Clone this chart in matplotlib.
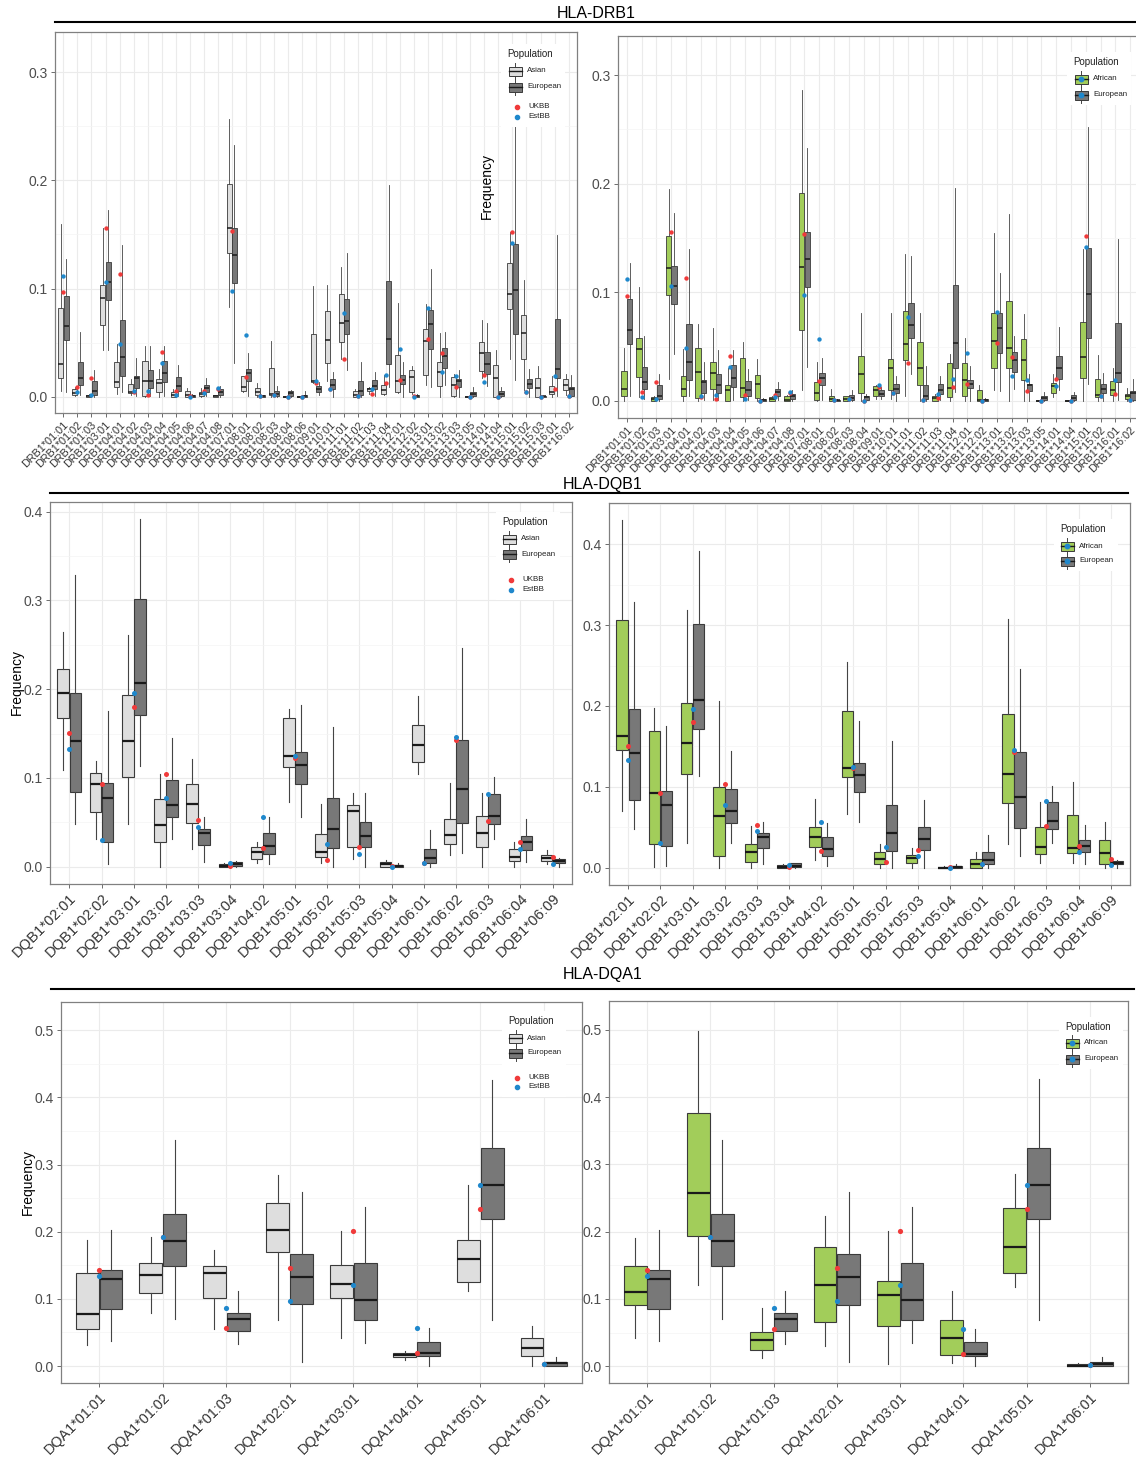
import numpy as np
import matplotlib
matplotlib.use("Agg")
import matplotlib.pyplot as plt
from matplotlib.patches import Rectangle
from matplotlib.lines import Line2D
from matplotlib.transforms import Affine2D
from matplotlib.ticker import MultipleLocator

plt.rcParams['font.family'] = ['Liberation Sans', 'DejaVu Sans']

# ---------------------------------------------------------------- data
# each box: (whisker_low, q1, median, q3, whisker_high)

drb1_alleles = ["01:01", "01:02", "01:03", "03:01", "04:01", "04:02", "04:03", "04:04",
                "04:05", "04:06", "04:07", "04:08", "07:01", "08:01", "08:02", "08:03",
                "08:04", "08:06", "09:01", "10:01", "11:01", "11:02", "11:03", "11:04",
                "12:01", "12:02", "13:01", "13:02", "13:03", "13:05", "14:01", "14:04",
                "15:01", "15:02", "15:03", "16:01", "16:02"]
drb1_alleles_afr = [a for a in drb1_alleles if a not in ("08:06", "15:03")]

drb1_asian = [
    (0.0055, 0.017, 0.030, 0.082, 0.160), (0.0006, 0.002, 0.0037, 0.0068, 0.0086),
    (0.0, 0.0, 0.0005, 0.0015, 0.0025), (0.043, 0.066, 0.0914, 0.1037, 0.156),
    (0.003, 0.0092, 0.0132, 0.0317, 0.049), (0.0015, 0.0037, 0.0046, 0.0114, 0.016),
    (0.0, 0.0006, 0.0148, 0.033, 0.047), (0.0, 0.0046, 0.0123, 0.0166, 0.026),
    (0.0, 0.0, 0.002, 0.0046, 0.0068), (0.0, 0.0, 0.002, 0.005, 0.0077),
    (0.0, 0.0006, 0.0025, 0.0046, 0.008), (0.0, 0.0, 0.0003, 0.0012, 0.0015),
    (0.0825, 0.133, 0.156, 0.197, 0.257), (0.004, 0.005, 0.009, 0.019, 0.0195),
    (0.0, 0.002, 0.004, 0.0083, 0.0123), (0.0, 0.002, 0.0028, 0.027, 0.0517),
    (0.0, 0.0, 0.0, 0.0003, 0.0006), (0.0, 0.0, 0.0, 0.0003, 0.0006),
    (0.013, 0.014, 0.0148, 0.058, 0.102), (0.015, 0.031, 0.052, 0.079, 0.103),
    (0.0345, 0.051, 0.068, 0.095, 0.120), (0.0, 0.0, 0.002, 0.005, 0.0068),
    (0.003, 0.0055, 0.007, 0.0083, 0.0092), (0.0015, 0.003, 0.006, 0.0105, 0.020),
    (0.0035, 0.0046, 0.0145, 0.039, 0.087), (0.003, 0.0046, 0.018, 0.0246, 0.028),
    (0.011, 0.0197, 0.0514, 0.063, 0.0855), (0.0, 0.0102, 0.023, 0.0323, 0.059),
    (0.0, 0.0006, 0.0108, 0.018, 0.0206), (0.0, 0.0, 0.0, 0.0003, 0.0006),
    (0.017, 0.024, 0.0406, 0.051, 0.0708), (0.0, 0.0, 0.017, 0.029, 0.043),
    (0.0345, 0.0815, 0.0954, 0.1237, 0.152), (0.006, 0.035, 0.059, 0.0757, 0.108),
    (0.0, 0.0, 0.0077, 0.0175, 0.028), (0.0, 0.003, 0.0046, 0.0098, 0.019),
    (0.0015, 0.006, 0.0108, 0.016, 0.021)]

drb1_european = [
    (0.0046, 0.052, 0.0655, 0.0935, 0.127), (0.0015, 0.011, 0.0175, 0.0317, 0.060),
    (0.0, 0.0015, 0.0050, 0.0150, 0.025), (0.043, 0.089, 0.106, 0.1246, 0.173),
    (0.0046, 0.0194, 0.0363, 0.0708, 0.140), (0.0006, 0.0077, 0.017, 0.0194, 0.036),
    (0.0006, 0.0077, 0.0145, 0.025, 0.047), (0.0006, 0.0132, 0.0215, 0.033, 0.047),
    (0.0006, 0.005, 0.0098, 0.0185, 0.029), (0.0, 0.0, 0.0006, 0.0015, 0.0025),
    (0.0006, 0.0043, 0.0083, 0.011, 0.0175), (0.0, 0.002, 0.0043, 0.0068, 0.0098),
    (0.031, 0.105, 0.131, 0.156, 0.233), (0.0006, 0.0145, 0.0215, 0.026, 0.040),
    (0.0, 0.0, 0.0006, 0.0012, 0.002), (0.0, 0.0006, 0.003, 0.0055, 0.0098),
    (0.0, 0.001, 0.0034, 0.005, 0.006), (0.0, 0.0, 0.001, 0.002, 0.0055),
    (0.0015, 0.0043, 0.0068, 0.0098, 0.0132), (0.0, 0.0074, 0.011, 0.016, 0.023),
    (0.0246, 0.058, 0.070, 0.090, 0.133), (0.0, 0.002, 0.005, 0.0145, 0.032),
    (0.0006, 0.0068, 0.0098, 0.0154, 0.0228), (0.0086, 0.030, 0.053, 0.107, 0.196),
    (0.0, 0.0117, 0.0154, 0.0197, 0.032), (0.0, 0.0, 0.001, 0.002, 0.003),
    (0.009, 0.044, 0.0668, 0.0806, 0.118), (0.011, 0.0268, 0.0378, 0.0455, 0.060),
    (0.0, 0.0092, 0.0145, 0.016, 0.0246), (0.0, 0.001, 0.003, 0.0046, 0.0086),
    (0.0098, 0.0206, 0.030, 0.041, 0.0677), (0.0, 0.0006, 0.003, 0.0052, 0.0086),
    (0.0154, 0.0578, 0.0989, 0.141, 0.252), (0.0, 0.0077, 0.0114, 0.016, 0.0255),
    (0.0, 0.0, 0.0003, 0.0006, 0.001), (0.0006, 0.017, 0.026, 0.0714, 0.149),
    (0.0, 0.0006, 0.007, 0.0092, 0.020)]

drb1_african = [
    (0.0, 0.0046, 0.0114, 0.0277, 0.049), (0.0037, 0.022, 0.0475, 0.0576, 0.105),
    (0.0, 0.0, 0.002, 0.0037, 0.0046), (0.0206, 0.0977, 0.122, 0.152, 0.195),
    (0.0, 0.0043, 0.0108, 0.0234, 0.0478), (0.0, 0.003, 0.0268, 0.0484, 0.0706),
    (0.0012, 0.0114, 0.0259, 0.036, 0.0669), (0.0, 0.0, 0.0099, 0.0145, 0.030),
    (0.0, 0.0037, 0.0123, 0.040, 0.0545), (0.0, 0.003, 0.016, 0.0237, 0.039),
    (0.0, 0.0, 0.002, 0.0037, 0.0046), (0.0, 0.0, 0.0006, 0.0043, 0.0055),
    (0.0105, 0.0653, 0.123, 0.191, 0.286), (0.0, 0.0006, 0.0074, 0.017, 0.0354),
    (0.0, 0.0, 0.002, 0.0043, 0.011), (0.0, 0.0, 0.002, 0.0043, 0.0046),
    (0.0, 0.0074, 0.0247, 0.041, 0.081), (0.0022, 0.0046, 0.0099, 0.014, 0.015),
    (0.0022, 0.0105, 0.0305, 0.039, 0.0807), (0.005, 0.038, 0.0524, 0.0826, 0.135),
    (0.0, 0.0145, 0.030, 0.054, 0.081), (0.0, 0.0, 0.003, 0.0046, 0.0068),
    (0.0, 0.0037, 0.0123, 0.0345, 0.043), (0.0, 0.0043, 0.019, 0.0345, 0.058),
    (0.0, 0.0, 0.0006, 0.0099, 0.015), (0.0099, 0.030, 0.0555, 0.081, 0.155),
    (0.0, 0.030, 0.0484, 0.092, 0.172), (0.0, 0.019, 0.0376, 0.0567, 0.080),
    (0.0, 0.0, 0.0, 0.0006, 0.001), (0.004, 0.0074, 0.0139, 0.0166, 0.0247),
    (0.0, 0.0, 0.0, 0.0006, 0.001), (0.0, 0.0213, 0.0407, 0.073, 0.140),
    (0.0, 0.0037, 0.0052, 0.0203, 0.0422), (0.0, 0.0052, 0.0099, 0.0185, 0.030),
    (0.0, 0.002, 0.0043, 0.0068, 0.0123)]

drb1_ukbb = [0.0966, 0.0086, 0.0175, 0.156, 0.113, 0.004, 0.0015, 0.041, 0.0055, 0.0003,
             0.0055, 0.0075, 0.1535, 0.0185, 0.0005, 0.002, 0.0, 0.0, 0.013, 0.007,
             0.0345, 0.001, 0.003, 0.0129, 0.0154, 0.0003, 0.053, 0.0406, 0.009, 0.0,
             0.020, 0.0, 0.152, 0.0046, 0.0, 0.0068, 0.0006]
drb1_estbb = [0.112, 0.004, 0.0015, 0.106, 0.0486, 0.005, 0.0055, 0.031, 0.002, 0.0,
              0.0034, 0.008, 0.0975, 0.057, 0.0006, 0.002, 0.0, 0.0, 0.0148, 0.0074,
              0.077, 0.001, 0.0068, 0.020, 0.044, 0.0, 0.082, 0.023, 0.019, 0.0,
              0.0138, 0.0, 0.142, 0.0046, 0.0, 0.019, 0.0006]

dqb1_alleles = ["02:01", "02:02", "03:01", "03:02", "03:03", "03:04", "04:02", "05:01",
                "05:02", "05:03", "05:04", "06:01", "06:02", "06:03", "06:04", "06:09"]
dqb1_asian = [
    (0.109, 0.168, 0.196, 0.223, 0.264), (0.031, 0.0612, 0.0928, 0.106, 0.119),
    (0.0477, 0.101, 0.142, 0.193, 0.261), (0.0, 0.0274, 0.047, 0.0759, 0.104),
    (0.020, 0.0488, 0.0706, 0.093, 0.121), (0.0, 0.0, 0.0008, 0.0026, 0.0038),
    (0.0045, 0.0086, 0.0169, 0.0218, 0.028), (0.0732, 0.1127, 0.1247, 0.168, 0.178),
    (0.0038, 0.0113, 0.0169, 0.0364, 0.0706), (0.0083, 0.0225, 0.0627, 0.0695, 0.0826),
    (0.0, 0.0, 0.0026, 0.0056, 0.0075), (0.104, 0.118, 0.137, 0.160, 0.192),
    (0.013, 0.0255, 0.0357, 0.0537, 0.0946), (0.0, 0.0225, 0.0376, 0.0575, 0.0826),
    (0.0, 0.0068, 0.0113, 0.020, 0.028), (0.003, 0.0068, 0.0101, 0.013, 0.0188)]
dqb1_european = [
    (0.0477, 0.0837, 0.142, 0.196, 0.329), (0.0026, 0.0274, 0.077, 0.0946, 0.175),
    (0.113, 0.171, 0.207, 0.3015, 0.392), (0.031, 0.0556, 0.0695, 0.0976, 0.1446),
    (0.005, 0.0244, 0.0383, 0.0428, 0.0563), (0.0, 0.001, 0.0026, 0.0056, 0.0064),
    (0.0026, 0.0143, 0.0233, 0.0376, 0.0556), (0.0563, 0.0931, 0.1145, 0.1296, 0.182),
    (0.0, 0.0207, 0.0424, 0.077, 0.157), (0.0, 0.0225, 0.035, 0.050, 0.0834),
    (0.0, 0.0, 0.0008, 0.0019, 0.004), (0.0, 0.0045, 0.0101, 0.0195, 0.041),
    (0.015, 0.0488, 0.0871, 0.1427, 0.246), (0.031, 0.0477, 0.0575, 0.0815, 0.1006),
    (0.005, 0.0188, 0.0274, 0.0345, 0.0533), (0.0, 0.0045, 0.0064, 0.0086, 0.0101)]
dqb1_african = [
    (0.0704, 0.146, 0.163, 0.306, 0.430), (0.001, 0.0293, 0.0927, 0.169, 0.197),
    (0.030, 0.1153, 0.1537, 0.204, 0.319), (0.0, 0.0144, 0.0643, 0.0993, 0.206),
    (0.0, 0.0074, 0.019, 0.0292, 0.0519), (0.0, 0.0, 0.0012, 0.0033, 0.004),
    (0.0095, 0.025, 0.0375, 0.0507, 0.0844), (0.0663, 0.1116, 0.1228, 0.194, 0.2546),
    (0.0, 0.0045, 0.0107, 0.019, 0.0292), (0.0, 0.0054, 0.0124, 0.0157, 0.0239),
    (0.0, 0.0, 0.0, 0.0012, 0.0025), (0.0, 0.0, 0.0045, 0.0107, 0.0198),
    (0.0292, 0.0795, 0.1153, 0.190, 0.307), (0.0062, 0.0169, 0.026, 0.0498, 0.0807),
    (0.0062, 0.0177, 0.0247, 0.065, 0.1063), (0.0, 0.0041, 0.0185, 0.0342, 0.0568)]
dqb1_ukbb = [0.151, 0.0928, 0.180, 0.104, 0.0526, 0.0008, 0.0207, 0.123,
             0.0075, 0.0218, 0.001, 0.004, 0.1427, 0.0518, 0.0274, 0.0105]
dqb1_estbb = [0.133, 0.030, 0.196, 0.077, 0.045, 0.0038, 0.0563, 0.1247,
              0.0255, 0.0143, 0.0, 0.0045, 0.146, 0.0819, 0.0195, 0.003]

dqa1_alleles = ["01:01", "01:02", "01:03", "02:01", "03:01", "04:01", "05:01", "06:01"]
dqa1_asian = [
    (0.031, 0.0546, 0.0769, 0.138, 0.1875), (0.079, 0.108, 0.1354, 0.154, 0.1925),
    (0.055, 0.102, 0.138, 0.149, 0.1726), (0.0685, 0.170, 0.2024, 0.242, 0.284),
    (0.042, 0.102, 0.1215, 0.150, 0.201), (0.009, 0.0139, 0.0169, 0.0188, 0.0228),
    (0.1116, 0.1255, 0.160, 0.1875, 0.269), (0.0, 0.0149, 0.0273, 0.042, 0.0595)]
dqa1_european = [
    (0.0377, 0.0848, 0.1295, 0.143, 0.203), (0.070, 0.149, 0.1865, 0.2257, 0.336),
    (0.0327, 0.0526, 0.070, 0.079, 0.112), (0.0064, 0.0918, 0.133, 0.1667, 0.259),
    (0.035, 0.0685, 0.098, 0.154, 0.237), (0.0, 0.0154, 0.0188, 0.0362, 0.056),
    (0.0685, 0.2188, 0.269, 0.324, 0.4266), (0.0, 0.0, 0.004, 0.0064, 0.0139)]
dqa1_african = [
    (0.0427, 0.0918, 0.1106, 0.149, 0.191), (0.1215, 0.1935, 0.258, 0.376, 0.499),
    (0.0129, 0.0248, 0.0397, 0.051, 0.0868), (0.0298, 0.066, 0.1205, 0.1766, 0.223),
    (0.004, 0.0595, 0.1057, 0.1265, 0.201), (0.0055, 0.0174, 0.042, 0.0694, 0.1116),
    (0.118, 0.139, 0.1776, 0.2346, 0.2857), (0.0, 0.0, 0.001, 0.004, 0.005)]
dqa1_ukbb = [0.143, 0.192, 0.056, 0.146, 0.201, 0.0188, 0.2336, 0.0025]
dqa1_estbb = [0.134, 0.1925, 0.086, 0.097, 0.1205, 0.056, 0.269, 0.0025]

# ---------------------------------------------------------------- style
W, H = 1136, 1457
COL_ASIAN = "#DEDEDE"
COL_EUR = "#787878"
COL_AFR = "#A2CD5A"
COL_EDGE = "#3A3A3A"
COL_UKBB = "#F03A3A"
COL_ESTBB = "#1F88CC"

fig = plt.figure(figsize=(W / 100, H / 100), dpi=100)
fig.patch.set_facecolor("white")
# top-down pixel coordinates on the figure
PIX = Affine2D().scale(1 / W, -1 / H).translate(0, 1) + fig.transFigure


def make_axes(left, top, right, bottom, ylim, n, labels, xfont, ymajor):
    ax = fig.add_axes([left / W, 1 - bottom / H, (right - left) / W, (bottom - top) / H])
    ax.set_xlim(0.4, n + 0.6)
    ax.set_ylim(*ylim)
    ax.set_xticks(np.arange(1, n + 1))
    ax.set_xticklabels(labels, rotation=45, ha="right", va="top",
                       rotation_mode="anchor", fontsize=xfont, color="#333333")
    ax.yaxis.set_major_locator(MultipleLocator(ymajor))
    ax.yaxis.set_minor_locator(MultipleLocator(ymajor / 2))
    ax.yaxis.set_major_formatter(matplotlib.ticker.FormatStrFormatter("%.1f"))
    ax.tick_params(axis="y", labelsize=10, labelcolor="#4D4D4D", length=3,
                   width=0.6, color="#555555", pad=2)
    ax.tick_params(axis="x", length=3, width=0.6, color="#555555", pad=2)
    ax.tick_params(which="minor", length=0)
    ax.grid(True, which="major", color="#EBEBEB", lw=0.8)
    ax.grid(True, which="minor", axis="y", color="#F4F4F4", lw=0.5)
    ax.set_axisbelow(True)
    for s in ax.spines.values():
        s.set_color("#808080")
        s.set_linewidth(0.9)
    return ax


def draw_boxes(ax, series, positions, color, width, lw, mlw):
    stats = [dict(whislo=lo, q1=q1, med=m, q3=q3, whishi=hi)
             for (lo, q1, m, q3, hi) in series]
    ax.bxp(stats, positions=positions, widths=width, patch_artist=True,
           showfliers=False, showcaps=False, manage_ticks=False,
           boxprops=dict(facecolor=color, edgecolor=COL_EDGE, linewidth=lw),
           whiskerprops=dict(color="#444444", linewidth=lw),
           medianprops=dict(color="#1A1A1A", linewidth=mlw, solid_capstyle="butt"))


def draw_panel(ax, first, european, ukbb, estbb, first_color, lw, mlw, dot):
    n = len(first)
    x = np.arange(1, n + 1)
    draw_boxes(ax, first, x - 0.1875, first_color, 0.36, lw, mlw)
    draw_boxes(ax, european, x + 0.1875, COL_EUR, 0.36, lw, mlw)
    ax.scatter(x, ukbb, s=dot, color=COL_UKBB, zorder=4, linewidths=0)
    ax.scatter(x, estbb, s=dot, color=COL_ESTBB, zorder=5, linewidths=0)


def key_glyph(x, y, fill, blue_dot=False):
    fig.add_artist(Line2D([x, x], [y - 8, y + 8], color="#444444", lw=0.7,
                          transform=PIX, zorder=5))
    fig.add_artist(Rectangle((x - 6.5, y - 4.5), 13, 9, facecolor=fill, edgecolor=COL_EDGE,
                             lw=0.7, transform=PIX, zorder=6))
    fig.add_artist(Line2D([x - 6.5, x + 6.5], [y, y], color="#1A1A1A", lw=1.0,
                          transform=PIX, zorder=7))
    if blue_dot:
        fig.add_artist(Line2D([x], [y], marker="o", ms=3.2, color=COL_ESTBB,
                              linestyle="none", transform=PIX, zorder=8))


def legend(title_xy, key_x, text_x, names, fills, ys, dots_y=None, blue_dot=False):
    tx, ty = title_xy
    bottom = (dots_y[-1] if dots_y else ys[-1]) + 10
    fig.add_artist(Rectangle((tx - 6, ty - 10), 64, bottom - ty + 10, facecolor="white",
                             edgecolor="none", transform=PIX, zorder=3))
    fig.text(tx, ty, "Population", transform=PIX, fontsize=7, ha="left", va="center",
             color="#222222", zorder=9)
    for name, fill, y in zip(names, fills, ys):
        key_glyph(key_x, y, fill, blue_dot)
        fig.text(text_x, y, name, transform=PIX, fontsize=5.7, ha="left", va="center",
                 color="#222222", zorder=9)
    if dots_y:
        for name, col, y in zip(["UKBB", "EstBB"], [COL_UKBB, COL_ESTBB], dots_y):
            fig.add_artist(Line2D([key_x + 1.5], [y], marker="o", ms=3.0, color=col,
                                  linestyle="none", transform=PIX, zorder=8))
            fig.text(text_x + 1, y, name, transform=PIX, fontsize=5.7, ha="left",
                     va="center", color="#222222", zorder=9)


def section(title, cx, cy, x0, x1, ly):
    fig.text(cx, cy, title, transform=PIX, fontsize=11.5, ha="center", va="center")
    fig.add_artist(Line2D([x0, x1], [ly, ly], color="black", lw=1.5, transform=PIX))


# ---------------------------------------------------------------- HLA-DRB1
eur_by_allele = dict(zip(drb1_alleles, drb1_european))
uk_by_allele = dict(zip(drb1_alleles, drb1_ukbb))
est_by_allele = dict(zip(drb1_alleles, drb1_estbb))

ax = make_axes(55, 32, 577, 413, (-0.015, 0.337), len(drb1_alleles),
               ["DRB1*" + a for a in drb1_alleles], 7.8, 0.1)
draw_panel(ax, drb1_asian, drb1_european, drb1_ukbb, drb1_estbb, COL_ASIAN, 0.6, 1.1, 10)

ax = make_axes(618, 36, 1139, 418, (-0.0157, 0.336), len(drb1_alleles_afr),
               ["DRB1*" + a for a in drb1_alleles_afr], 7.8, 0.1)
draw_panel(ax, drb1_african, [eur_by_allele[a] for a in drb1_alleles_afr],
           [uk_by_allele[a] for a in drb1_alleles_afr],
           [est_by_allele[a] for a in drb1_alleles_afr], COL_AFR, 0.6, 1.1, 10)

# ---------------------------------------------------------------- HLA-DQB1
ax = make_axes(50, 502, 572, 884, (-0.0195, 0.411), len(dqb1_alleles),
               ["DQB1*" + a for a in dqb1_alleles], 10.6, 0.1)
draw_panel(ax, dqb1_asian, dqb1_european, dqb1_ukbb, dqb1_estbb, COL_ASIAN, 0.8, 1.6, 13)

ax = make_axes(609, 503, 1130, 885, (-0.0214, 0.451), len(dqb1_alleles),
               ["DQB1*" + a for a in dqb1_alleles], 10.6, 0.1)
draw_panel(ax, dqb1_african, dqb1_european, dqb1_ukbb, dqb1_estbb, COL_AFR, 0.8, 1.6, 13)

# ---------------------------------------------------------------- HLA-DQA1
ax = make_axes(61, 1002, 582, 1383, (-0.0253, 0.542), len(dqa1_alleles),
               ["DQA1*" + a for a in dqa1_alleles], 10.4, 0.1)
draw_panel(ax, dqa1_asian, dqa1_european, dqa1_ukbb, dqa1_estbb, COL_ASIAN, 0.8, 1.6, 14)

ax = make_axes(609, 1001, 1128, 1383, (-0.0249, 0.543), len(dqa1_alleles),
               ["DQA1*" + a for a in dqa1_alleles], 10.4, 0.1)
draw_panel(ax, dqa1_african, dqa1_european, dqa1_ukbb, dqa1_estbb, COL_AFR, 0.8, 1.6, 14)

# ---------------------------------------------------------------- legends
legend((507, 54), 515, 527, ["Asian", "European"], [COL_ASIAN, COL_EUR], [71, 87],
       dots_y=[107, 116.5])
legend((1073, 62), 1081, 1093, ["African", "European"], [COL_AFR, COL_EUR], [79, 95],
       blue_dot=True)
legend((502, 522), 509, 521, ["Asian", "European"], [COL_ASIAN, COL_EUR], [539, 554],
       dots_y=[579.5, 589.5])
legend((1060, 529), 1067, 1079, ["African", "European"], [COL_AFR, COL_EUR], [546, 561],
       blue_dot=True)
legend((508, 1021), 515.5, 527, ["Asian", "European"], [COL_ASIAN, COL_EUR], [1038, 1053],
       dots_y=[1077.5, 1087])
legend((1065, 1027), 1072, 1084, ["African", "European"], [COL_AFR, COL_EUR], [1043, 1059],
       blue_dot=True)

# ---------------------------------------------------------------- titles and labels
section("HLA-DRB1", 596, 13, 55, 1136, 22)
section("HLA-DQB1", 603, 484, 50, 1128, 493)
section("HLA-DQA1", 603, 974, 51, 1134, 989)

for x, y in [(487, 186), (17, 682), (28, 1182)]:
    fig.text(x, y, "Frequency", transform=PIX, rotation=90, fontsize=10,
             ha="center", va="center", color="black")

fig.savefig("out.png", dpi=100, facecolor="white")
